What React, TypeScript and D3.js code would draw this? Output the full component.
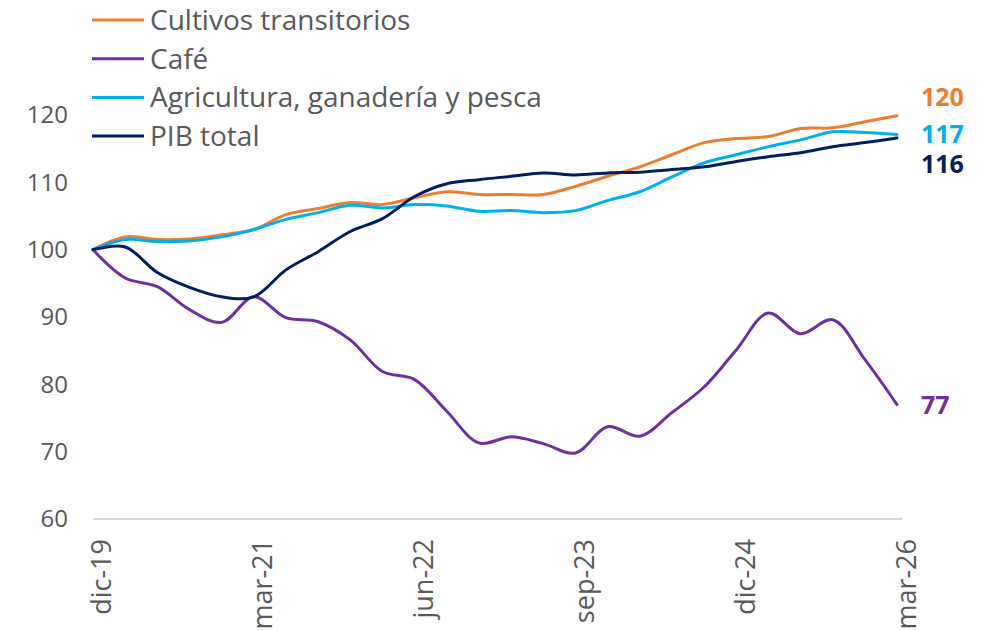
import React from "react";
import * as d3 from "d3";

const periods = [
  "dic-19","mar-20","jun-20","sep-20","dic-20","mar-21","jun-21","sep-21","dic-21",
  "mar-22","jun-22","sep-22","dic-22","mar-23","jun-23","sep-23","dic-23","mar-24",
  "jun-24","sep-24","dic-24","mar-25","jun-25","sep-25","dic-25","mar-26"
];
const tickLabels = ["dic-19", "mar-21", "jun-22", "sep-23", "dic-24", "mar-26"];
const yTicks = [60, 70, 80, 90, 100, 110, 120];

const cultivos = [100, 101.9, 101.5, 101.6, 102.2, 103.0, 105.2, 106.1, 107.0, 106.7, 107.7, 108.6, 108.2, 108.2, 108.2, 109.4, 110.9, 112.3, 114.1, 115.9, 116.5, 116.8, 118.0, 118.1, 119.0, 119.9];
const cafe = [100, 95.8, 94.5, 91.1, 89.2, 93.0, 89.9, 89.3, 86.6, 81.9, 80.7, 76.0, 71.3, 72.2, 71.2, 69.8, 73.7, 72.3, 75.8, 79.6, 85.1, 90.6, 87.5, 89.6, 83.7, 77.0];
const agricultura = [100, 101.5, 101.2, 101.3, 101.9, 103.0, 104.5, 105.5, 106.6, 106.2, 106.7, 106.5, 105.7, 105.8, 105.5, 105.8, 107.3, 108.6, 110.8, 112.9, 114.1, 115.3, 116.3, 117.5, 117.4, 117.1];
const pib = [100, 100.4, 96.6, 94.4, 93.0, 93.0, 97.0, 99.7, 102.7, 104.6, 107.9, 109.8, 110.4, 110.9, 111.4, 111.1, 111.4, 111.5, 111.9, 112.3, 113.1, 113.8, 114.4, 115.3, 115.9, 116.6];

const seriesNames = ["Cultivos transitorios", "Café", "Agricultura, ganadería y pesca", "PIB total"];
const seriesColors = ["#ED7D31", "#7030A0", "#00B0F0", "#002060"];
const endLabels = ["120", "77", "117", "116"];

export default function App() {
  const W = 995, H = 630;
  const x = d3.scalePoint<string>().domain(periods).range([93, 897]);
  const xLab = d3.scalePoint<string>().domain(tickLabels).range([101, 906]);
  const y = d3.scaleLinear().domain([60, 120]).range([519, 115]);
  const data = [cultivos, cafe, agricultura, pib];
  const line = d3
    .line<number>()
    .x((_, i) => x(periods[i]) as number)
    .y((d) => y(d))
    .curve(d3.curveCatmullRom.alpha(0.5));
  const font = "'Open Sans', sans-serif";
  const gray = "#595959";
  const endOffsets = [-19, 0, -1, 26];

  return (
    <svg width={W} height={H} style={{ position: "absolute", left: 0, top: 0 }}>
      <rect width={W} height={H} fill="#fff" />
      {yTicks.map((t) => (
        <text key={t} x={68} y={y(t)} dy="0.35em" textAnchor="end" fontFamily={font} fontSize={24} fill={gray}>
          {t}
        </text>
      ))}
      <line x1={93} x2={902} y1={y(60)} y2={y(60)} stroke="#D9D9D9" strokeWidth={2} />
      {tickLabels.map((t) => (
        <text
          key={t}
          transform={`translate(${xLab(t) as number},${539}) rotate(-90)`}
          dy="0.36em"
          textAnchor="end"
          fontFamily={font}
          fontSize={27}
          fill={gray}
        >
          {t}
        </text>
      ))}
      {data.map((d, k) => (
        <path key={k} d={line(d) || ""} fill="none" stroke={seriesColors[k]} strokeWidth={3} strokeLinecap="round" />
      ))}
      {data.map((d, k) => (
        <text
          key={"e" + k}
          x={921}
          y={y(d[d.length - 1]) + endOffsets[k]}
          dy="0.36em"
          fontFamily={font}
          fontWeight="bold"
          fontSize={25}
          fill={seriesColors[k]}
        >
          {endLabels[k]}
        </text>
      ))}
      {seriesNames.map((n, k) => (
        <g key={n} transform={`translate(0,${20 + k * 38.7})`}>
          <line x1={92} x2={144} y1={0} y2={0} stroke={seriesColors[k]} strokeWidth={3} />
          <text x={150} y={0} dy="0.36em" fontFamily={font} fontSize={28} fill={gray}>
            {n}
          </text>
        </g>
      ))}
    </svg>
  );
}
